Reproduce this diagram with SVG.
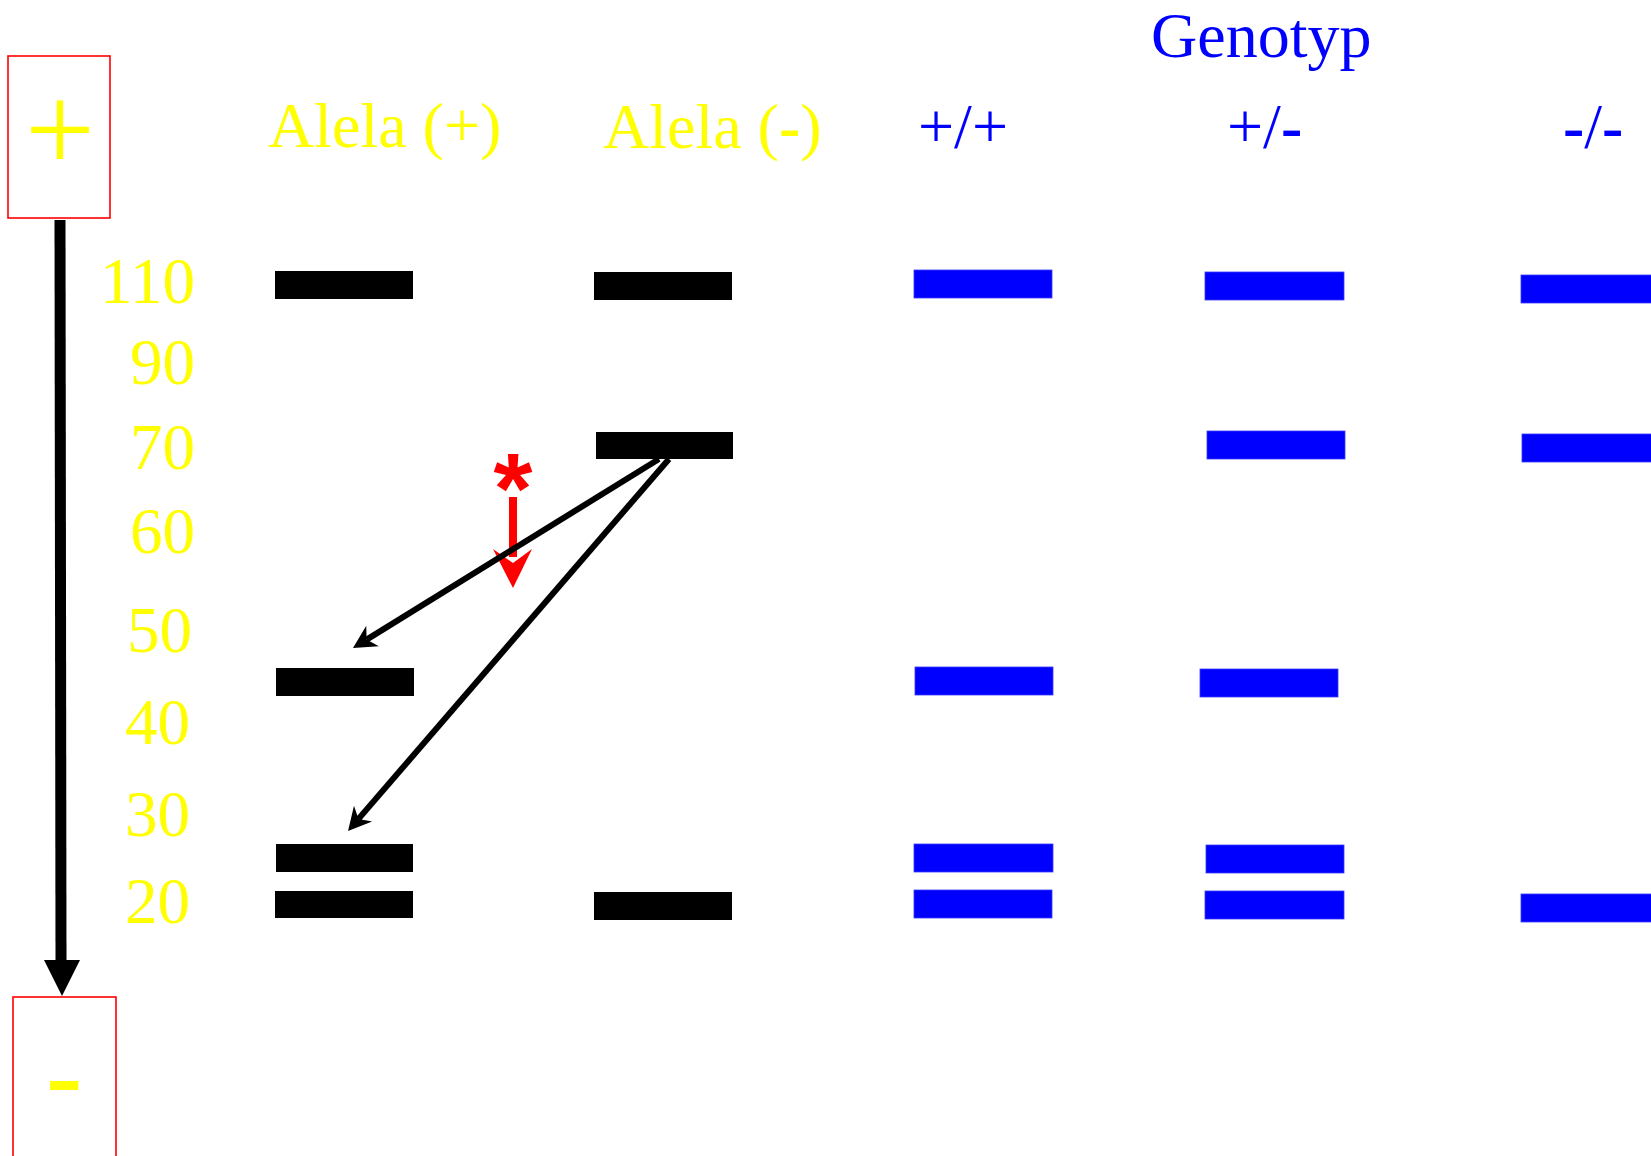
<svg xmlns="http://www.w3.org/2000/svg" width="1651" height="1156" viewBox="0 0 1651 1156">
<style>
.serif{font-family:"Liberation Serif","Times New Roman",serif}
.yel{fill:#FFFF00}
.blu{fill:#0000FF}
.band{fill:#000000}
.bband{fill:#0000FF;stroke:#3a3aff;stroke-width:0.8}
.pole{fill:none;stroke:#FF0000;stroke-width:1.6}
.num{font-size:65px;text-anchor:end}
.hd{font-size:64px}
.conn{stroke:#000;stroke-width:6;fill:none}
</style>
<defs>
<marker id="ah" markerUnits="userSpaceOnUse" markerWidth="40" markerHeight="40" viewBox="-30 -20 40 40" refX="-16" refY="0" orient="auto">
<path d="M0,0 L-23,-12 L-16,0 L-23,12 Z" fill="#000"/>
</marker>
</defs>
<rect width="1651" height="1156" fill="#fff"/>

<g id="pole-plus">
<rect class="pole" x="8" y="56" width="102" height="162"/>
<text class="serif yel" x="60" y="171" font-size="124" text-anchor="middle">+</text>
</g>
<g id="pole-minus">
<rect class="pole" x="13" y="997" width="103" height="175"/>
<text x="45" y="1116" font-family="Liberation Sans, Arial, sans-serif" font-size="115" class="yel">-</text>
</g>

<g id="headers">
<text id="alela-plus" class="serif yel hd" x="268" y="147">Alela (+)</text>
<text id="alela-minus" class="serif yel hd" x="603" y="148">Alela (<tspan font-weight="bold">-</tspan>)</text>
<text id="genotyp" class="serif blu hd" x="1151" y="57">Genotyp</text>
<text id="g-pp" class="serif blu hd" x="918" y="148">+/+</text>
<text id="g-pm" class="serif blu hd" x="1227" y="148">+/<tspan font-weight="bold">-</tspan></text>
<text id="g-mm" class="serif blu hd" x="1563" y="148"><tspan font-weight="bold">-</tspan>/<tspan font-weight="bold">-</tspan></text>
</g>

<g id="scale" class="serif yel">
<text class="num" x="195" y="303">110</text>
<text class="num" x="195" y="384">90</text>
<text class="num" x="195" y="469">70</text>
<text class="num" x="195" y="553">60</text>
<text class="num" x="192" y="652">50</text>
<text class="num" x="190" y="744">40</text>
<text class="num" x="190" y="836">30</text>
<text class="num" x="190" y="923">20</text>
</g>

<g id="lane-alela-plus">
<rect class="band" x="275" y="271" width="138" height="28"/>
<rect class="band" x="276" y="668" width="138" height="28"/>
<rect class="band" x="276" y="844" width="137" height="28"/>
<rect class="band" x="275" y="891" width="138" height="27"/>
</g>
<g id="lane-alela-minus">
<rect class="band" x="594" y="272" width="138" height="28"/>
<rect class="band" x="596" y="432" width="137" height="27"/>
<rect class="band" x="594" y="892" width="138" height="28"/>
</g>
<g id="lane-pp">
<rect class="bband" x="914" y="270" width="138" height="28"/>
<rect class="bband" x="915" y="667" width="138" height="28"/>
<rect class="bband" x="914" y="844" width="139" height="28"/>
<rect class="bband" x="914" y="890" width="138" height="28"/>
</g>
<g id="lane-pm">
<rect class="bband" x="1205" y="272" width="139" height="28"/>
<rect class="bband" x="1207" y="431" width="138" height="28"/>
<rect class="bband" x="1200" y="669" width="138" height="28"/>
<rect class="bband" x="1206" y="845" width="138" height="28"/>
<rect class="bband" x="1205" y="891" width="139" height="28"/>
</g>
<g id="lane-mm">
<rect class="bband" x="1521" y="275" width="135" height="28"/>
<rect class="bband" x="1522" y="434" width="135" height="28"/>
<rect class="bband" x="1521" y="894" width="135" height="28"/>
</g>

<g id="mutation">
<text x="513" y="523" font-family="Liberation Sans, Arial, sans-serif" font-weight="bold" font-size="100" fill="#FF0000" text-anchor="middle">*</text>
<rect x="509" y="497" width="8" height="60" fill="#FF0000"/>
<path d="M513,588 L493,549 L513,563 L532,549 Z" fill="#FF0000"/>
</g>

<g id="connectors">
<line x1="60" y1="220" x2="61" y2="961" stroke="#000" stroke-width="11"/>
<polygon points="44,960 80,960 62,996" fill="#000"/>
<line class="conn" x1="659" y1="459" x2="366.6" y2="639.6" marker-end="url(#ah)"/>
<line class="conn" x1="669" y1="459" x2="358.5" y2="818.9" marker-end="url(#ah)"/>
</g>
</svg>
